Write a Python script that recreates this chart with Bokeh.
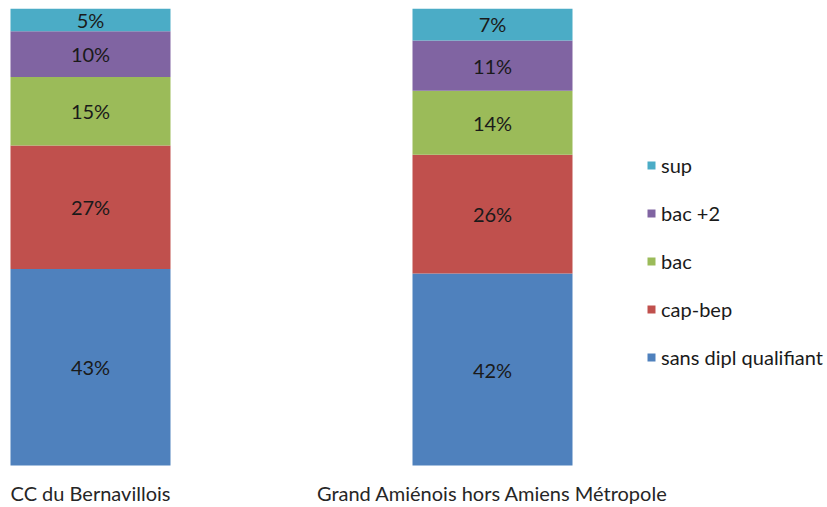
import numpy as np
from bokeh.plotting import figure
from bokeh.models import (Range1d, FixedTicker, Legend, LegendItem,
                          ColumnDataSource, LabelSet)
from bokeh.core.properties import value
from bokeh.embed import file_html
from bokeh.resources import INLINE

# ---- data ----
categories = ["CC du Bernavillois", "Grand Amiénois hors Amiens Métropole"]
levels = ["sans dipl qualifiant", "cap-bep", "bac", "bac +2", "sup"]
sans_dipl_qualifiant = [43, 42]
cap_bep = [27, 26]
bac = [15, 14]
bac_plus_2 = [10, 11]
sup = [5, 7]
colors = ["#4F81BD", "#C0504D", "#9BBB59", "#8064A2", "#4BACC6"]

series = [sans_dipl_qualifiant, cap_bep, bac, bac_plus_2, sup]

FONT = "Lato"
FS = "20px"
W, H = 827, 507
PX_PER_UNIT_X = 402.0
FIRST_CENTER_PX = 90.0
PX_PER_PCT = 4.57
TOP = 8
BOTTOM_BORDER = 30

frame_h = H - TOP - BOTTOM_BORDER
y_start = -(frame_h - 100 * PX_PER_PCT) / PX_PER_PCT
x_start = -FIRST_CENTER_PX / PX_PER_UNIT_X
x_end = x_start + W / PX_PER_UNIT_X

p = figure(width=W, height=H, output_backend="svg", toolbar_location=None,
           x_range=Range1d(x_start, x_end), y_range=Range1d(y_start, 100),
           min_border_left=0, min_border_right=0, min_border_top=TOP,
           min_border_bottom=BOTTOM_BORDER, outline_line_color=None)
p.grid.visible = False
p.yaxis.visible = False

xpos = np.arange(len(categories), dtype=float)
data = {"x": xpos}
for name, vals in zip(levels, series):
    data[name] = np.array(vals, dtype=float)
src = ColumnDataSource(data)

bar_w = 160.0 / PX_PER_UNIT_X
renderers = p.vbar_stack(levels, x="x", width=bar_w, source=src,
                         color=colors, line_color=None)

# data labels at the middle of each segment
vals = np.array(series, dtype=float)
cum = np.cumsum(vals, axis=0)
mids = cum - vals / 2.0
lx, ly, lt = [], [], []
for i in range(len(levels)):
    for j in range(len(categories)):
        lx.append(xpos[j])
        ly.append(mids[i, j])
        lt.append(f"{int(vals[i, j])}%")
lab_src = ColumnDataSource(dict(x=lx, y=ly, t=lt))
p.add_layout(LabelSet(x="x", y="y", text="t", source=lab_src,
                      text_align="center", text_baseline="middle",
                      text_font=value(FONT), text_font_size=value(FS),
                      text_color="#1a1a1a"))

# category axis
ax = p.xaxis[0]
ax.ticker = FixedTicker(ticks=list(xpos))
ax.major_label_overrides = {float(i): c for i, c in enumerate(categories)}
ax.axis_line_color = None
ax.major_tick_line_color = None
ax.minor_tick_line_color = None
ax.major_tick_out = 0
ax.major_tick_in = 0
ax.major_label_standoff = 3
ax.major_label_text_font = FONT
ax.major_label_text_font_size = FS
ax.major_label_text_color = "#262626"

# legend (top entry = top of stack)
items = [LegendItem(label=lv, renderers=[r]) for lv, r in zip(levels, renderers)][::-1]
row_h = 24
spacing = 24
leg_h = 5 * row_h + 4 * spacing
leg_top = 153
legend = Legend(items=items, location=(646, (TOP + frame_h) - leg_top - leg_h),
                orientation="vertical", glyph_width=10, glyph_height=10,
                label_height=row_h, spacing=spacing, padding=0, margin=0,
                label_standoff=5, border_line_color=None,
                background_fill_alpha=0, label_text_font=FONT,
                label_text_font_size=FS, label_text_color="#1a1a1a")
p.add_layout(legend)

open("out.html", "w").write(file_html(p, INLINE))
